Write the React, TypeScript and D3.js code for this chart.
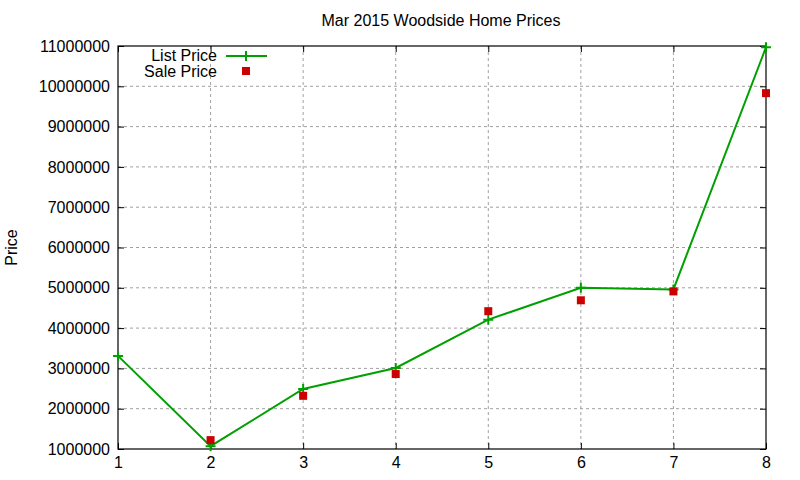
import { useEffect, useRef } from 'react'
import * as d3 from 'd3'

const W = 800
const H = 480
const MARGIN = { top: 46, right: 34, bottom: 31, left: 118 }

const homes = [1, 2, 3, 4, 5, 6, 7, 8]
const listPrice = [3310000, 1070000, 2490000, 3010000, 4210000, 5000000, 4960000, 10970000]
const salePrice: (number | null)[] = [null, 1220000, 2320000, 2860000, 4420000, 4690000, 4910000, 9830000]
const yTicks = [1000000, 2000000, 3000000, 4000000, 5000000, 6000000, 7000000, 8000000, 9000000, 10000000, 11000000]

const FONT = '"Liberation Sans", Arial, sans-serif'
const GREEN = '#00a000'
const RED = '#cc0000'

export default function App() {
  const svgRef = useRef<SVGSVGElement>(null)

  useEffect(() => {
    const svg = svgRef.current
    if (!svg) return
    d3.select(svg).selectAll('*').remove()

    const innerW = W - MARGIN.left - MARGIN.right
    const innerH = H - MARGIN.top - MARGIN.bottom

    const root = d3.select(svg)
    const g = root.append('g').attr('transform', `translate(${MARGIN.left},${MARGIN.top})`)

    const x = d3.scaleLinear().domain([1, 8]).range([0, innerW])
    const y = d3.scaleLinear().domain([1000000, 11000000]).range([innerH, 0])

    // 그리드
    g.append('g')
      .selectAll('line')
      .data(homes.slice(1, -1))
      .join('line')
      .attr('x1', d => x(d)).attr('x2', d => x(d))
      .attr('y1', 0).attr('y2', innerH)
      .attr('stroke', '#a0a0a0').attr('stroke-dasharray', '3,3')
    g.append('g')
      .selectAll('line')
      .data(yTicks.slice(1, -1))
      .join('line')
      .attr('x1', 0).attr('x2', innerW)
      .attr('y1', d => y(d)).attr('y2', d => y(d))
      .attr('stroke', '#a0a0a0').attr('stroke-dasharray', '3,3')

    // 축 (안쪽 틱, 양쪽 미러)
    const styleAxis = (sel: d3.Selection<SVGGElement, unknown, null, undefined>) => {
      sel.select('.domain').remove()
      sel.selectAll('line').attr('stroke', '#000')
      sel.selectAll('text').attr('fill', '#000').style('font-family', FONT).style('font-size', '16px')
    }
    g.append('g')
      .attr('transform', `translate(0,${innerH})`)
      .call(d3.axisBottom(x).tickValues(homes).tickSize(-6).tickPadding(8).tickFormat(d3.format('d')))
      .call(styleAxis)
    g.append('g')
      .call(d3.axisTop(x).tickValues(homes).tickSize(-6).tickFormat(() => ''))
      .call(styleAxis)
    g.append('g')
      .call(d3.axisLeft(y).tickValues(yTicks).tickSize(-6).tickPadding(8).tickFormat(d3.format('d')))
      .call(styleAxis)
    g.append('g')
      .attr('transform', `translate(${innerW},0)`)
      .call(d3.axisRight(y).tickValues(yTicks).tickSize(-6).tickFormat(() => ''))
      .call(styleAxis)

    g.append('rect')
      .attr('width', innerW).attr('height', innerH)
      .attr('fill', 'none').attr('stroke', '#000').attr('stroke-width', 1.2)

    // List Price 라인
    const line = d3.line<number>().x((_, i) => x(homes[i])).y(d => y(d))
    g.append('path')
      .datum(listPrice)
      .attr('fill', 'none').attr('stroke', GREEN).attr('stroke-width', 2)
      .attr('d', line)
    g.append('g')
      .selectAll('path')
      .data(listPrice)
      .join('path')
      .attr('d', (d, i) => `M${x(homes[i]) - 5},${y(d)}h10M${x(homes[i])},${y(d) - 5}v10`)
      .attr('stroke', GREEN).attr('stroke-width', 2).attr('fill', 'none')

    // Sale Price 점
    g.append('g')
      .selectAll('rect')
      .data(homes.map((h, i) => ({ h, v: salePrice[i] })).filter(d => d.v != null))
      .join('rect')
      .attr('x', d => x(d.h) - 4).attr('y', d => y(d.v as number) - 4)
      .attr('width', 8).attr('height', 8)
      .attr('fill', RED)

    // 범례
    const leg = root.append('g').style('font-family', FONT).style('font-size', '16px')
    leg.append('text').attr('x', 217).attr('y', 61).attr('text-anchor', 'end').text('List Price')
    leg.append('line').attr('x1', 226).attr('x2', 267).attr('y1', 56).attr('y2', 56).attr('stroke', GREEN).attr('stroke-width', 2)
    leg.append('path').attr('d', 'M246,51v10').attr('stroke', GREEN).attr('stroke-width', 2)
    leg.append('text').attr('x', 217).attr('y', 77).attr('text-anchor', 'end').text('Sale Price')
    leg.append('rect').attr('x', 242).attr('y', 67).attr('width', 8).attr('height', 8).attr('fill', RED)

    // 제목
    root.append('text')
      .attr('x', 441).attr('y', 26)
      .attr('text-anchor', 'middle')
      .style('font-family', FONT).style('font-size', '16px')
      .text('Mar 2015 Woodside Home Prices')

    root.append('text')
      .attr('transform', `translate(17,${MARGIN.top + innerH / 2}) rotate(-90)`)
      .attr('text-anchor', 'middle')
      .style('font-family', FONT).style('font-size', '16px')
      .text('Price')
  }, [])

  return (
    <div style={{ position: 'fixed', left: 0, top: 0, width: W, height: H, background: '#fff' }}>
      <svg ref={svgRef} width={W} height={H} />
    </div>
  )
}
